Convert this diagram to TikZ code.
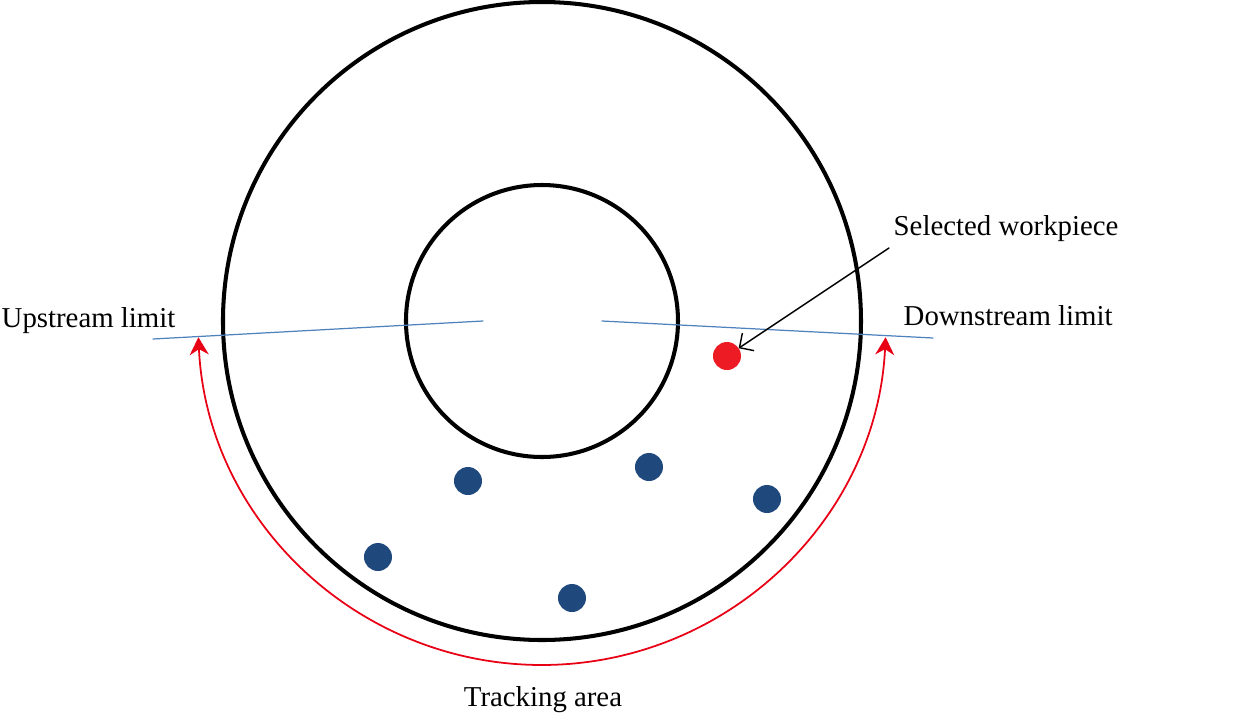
\documentclass[tikz,border=0pt]{standalone}
\usepackage{fontspec}
\setmainfont{Liberation Serif}
\usetikzlibrary{arrows.meta}
\definecolor{pieceblue}{RGB}{31,73,125}
\definecolor{piecered}{RGB}{237,28,36}
\definecolor{limitblue}{RGB}{79,129,189}
\definecolor{arcred}{RGB}{232,0,20}
\begin{document}
\begin{tikzpicture}[font=\fontsize{8.2}{10}\selectfont, line join=round, line cap=round,
	piece/.style={circle, fill=pieceblue, inner sep=0pt, outer sep=0pt, minimum size=2.8mm},
	lbl/.style={inner sep=0pt}]
		\useasboundingbox (-5.42,-3.94) rectangle (6.98,3.21);
		\path
		(0,0) coordinate (O)
		(-3.89,-0.18) coordinate (U1)
		(-0.59,0) coordinate (U2)
		(0.60,0) coordinate (D1)
		(3.91,-0.17) coordinate (D2)
		(3.47,0.73) coordinate (S)
		(-3.436,-0.162) coordinate (A1);
		\draw [line width=1.15pt] (O) circle (3.19) 
		(O) circle (1.36);
		\draw [limitblue, line width=0.35pt] (U1) -- (U2) (D1) -- (D2);
		\draw [arcred, line width=0.5pt, {Stealth[length=5pt,width=5.4pt,inset=1.6pt]}-{Stealth[length=5pt,width=5.4pt,inset=1.6pt]}]
		(A1) arc[start angle=182.7, end angle=357.3, radius=3.44];
		\node[lbl, anchor=base west] (up) at (-5.41,-0.06) {Upstream limit};
		\node[lbl, anchor=base west] (down) at (3.61,-0.04) {Downstream limit};
		\node[lbl, anchor=base west] (sel) at (3.51,0.86) {Selected workpiece};
		\node[lbl, anchor=base] (track) at (0.01,-3.85) {Tracking area};
		\node[piece, fill=piecered] (W) at (1.85,-0.35) {};
		\foreach \x/\y [count=\i] in {-0.74/-1.60, 1.07/-1.46, 2.25/-1.78, -1.64/-2.36, 0.30/-2.77}
		\node[piece] (p\i) at (\x,\y) {};
		\draw [-{Straight Barb[length=3pt,width=6pt]}, line width=0.4pt] (S) -- (W);
	\end{tikzpicture}
\end{document}
